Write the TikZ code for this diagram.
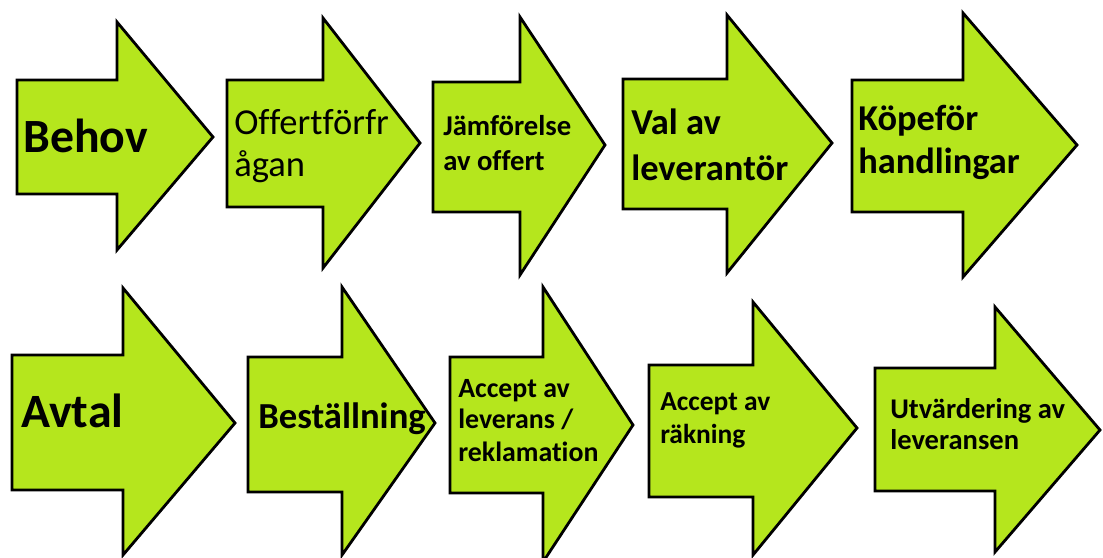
\documentclass[tikz,border=0pt]{standalone}
\usepackage{fontspec}
\setmainfont{Carlito}[Ligatures=NoCommon]
\definecolor{lime}{RGB}{181,230,29}
\tikzset{
  bigarrow/.style={draw=black, fill=lime, line width=2.1pt, line join=miter},
  lbl/.style={anchor=base west, inner sep=0pt, font=\bfseries},
}
\newcommand{\fs}[1]{\fontsize{#1}{#1}\selectfont}
\begin{document}
\begin{tikzpicture}[x=0.75pt, y=-0.75pt]
\useasboundingbox (0,0) rectangle (1103,557);
\clip (0,0) rectangle (1103,557);
\fill[white] (0,0) rectangle (1103,557);
% row 1
\draw[bigarrow] (17,80) -- (117,80) -- (117,22) -- (213,137) -- (117,250) -- (117,194) -- (17,194) -- cycle;
\draw[bigarrow] (227,80) -- (323,80) -- (323,18) -- (420,143) -- (323,268) -- (323,207) -- (227,207) -- cycle;
\draw[bigarrow] (433,82) -- (520,82) -- (520,17) -- (605,145) -- (520,275) -- (520,212) -- (433,212) -- cycle;
\draw[bigarrow] (623,79) -- (727,79) -- (727,15) -- (832,143) -- (727,273) -- (727,209) -- (623,209) -- cycle;
\draw[bigarrow] (852,80) -- (963,80) -- (963,13) -- (1077,145) -- (963,277) -- (963,212) -- (852,212) -- cycle;
% row 2
\draw[bigarrow] (12,355) -- (123,355) -- (123,288) -- (235,423) -- (123,555) -- (123,490) -- (12,490) -- cycle;
\draw[bigarrow] (248,357) -- (342,357) -- (342,287) -- (435,423) -- (342,555) -- (342,492) -- (248,492) -- cycle;
\draw[bigarrow] (450,357) -- (543,357) -- (543,287) -- (633,425) -- (543,562) -- (543,493) -- (450,493) -- cycle;
\draw[bigarrow] (649,365) -- (753,365) -- (753,302) -- (857,428) -- (753,555) -- (753,497) -- (649,497) -- cycle;
\draw[bigarrow] (875,368) -- (995,368) -- (995,307) -- (1100,430) -- (995,552) -- (995,491) -- (875,491) -- cycle;
% labels row 1
\node[lbl, font=\bfseries\fs{35.8pt}] (behov) at (23,152) {Behov};
\node[lbl, font=\fs{27.4pt}] (offA) at (234,134) {Offertförfr};
\node[lbl, font=\fs{27.4pt}] (offB) at (234,176) {ågan};
\node[lbl, font=\bfseries\fs{21.5pt}] (jamA) at (443,135) {Jämförelse};
\node[lbl, font=\bfseries\fs{21.5pt}] (jamB) at (443,170) {av offert};
\node[lbl, font=\bfseries\fs{27.4pt}] (valA) at (631,134) {Val av};
\node[lbl, font=\bfseries\fs{27.4pt}] (valB) at (631,180) {leverantör};
\node[lbl, font=\bfseries\fs{27.3pt}] (kopA) at (858,130) {Köpeför};
\node[lbl, font=\bfseries\fs{27.3pt}] (kopB) at (858,173) {handlingar};
% labels row 2
\node[lbl, font=\bfseries\fs{35.9pt}] (avtal) at (21,427) {Avtal};
\node[lbl, font=\bfseries\fs{27.5pt}] (best) at (258,428) {Beställning};
\node[lbl, font=\bfseries\fs{20.9pt}] (accA) at (458,397) {Accept av};
\node[lbl, font=\bfseries\fs{20.9pt}] (accB) at (458,428) {leverans /};
\node[lbl, font=\bfseries\fs{20.9pt}] (accC) at (458,461) {reklamation};
\node[lbl, font=\bfseries\fs{20.6pt}] (rakA) at (660,410) {Accept av};
\node[lbl, font=\bfseries\fs{20.6pt}] (rakB) at (660,443) {räkning};
\node[lbl, font=\bfseries\fs{21.4pt}] (utvA) at (890,418) {Utvärdering av};
\node[lbl, font=\bfseries\fs{21.4pt}] (utvB) at (890,449) {leveransen};
\end{tikzpicture}
\end{document}
